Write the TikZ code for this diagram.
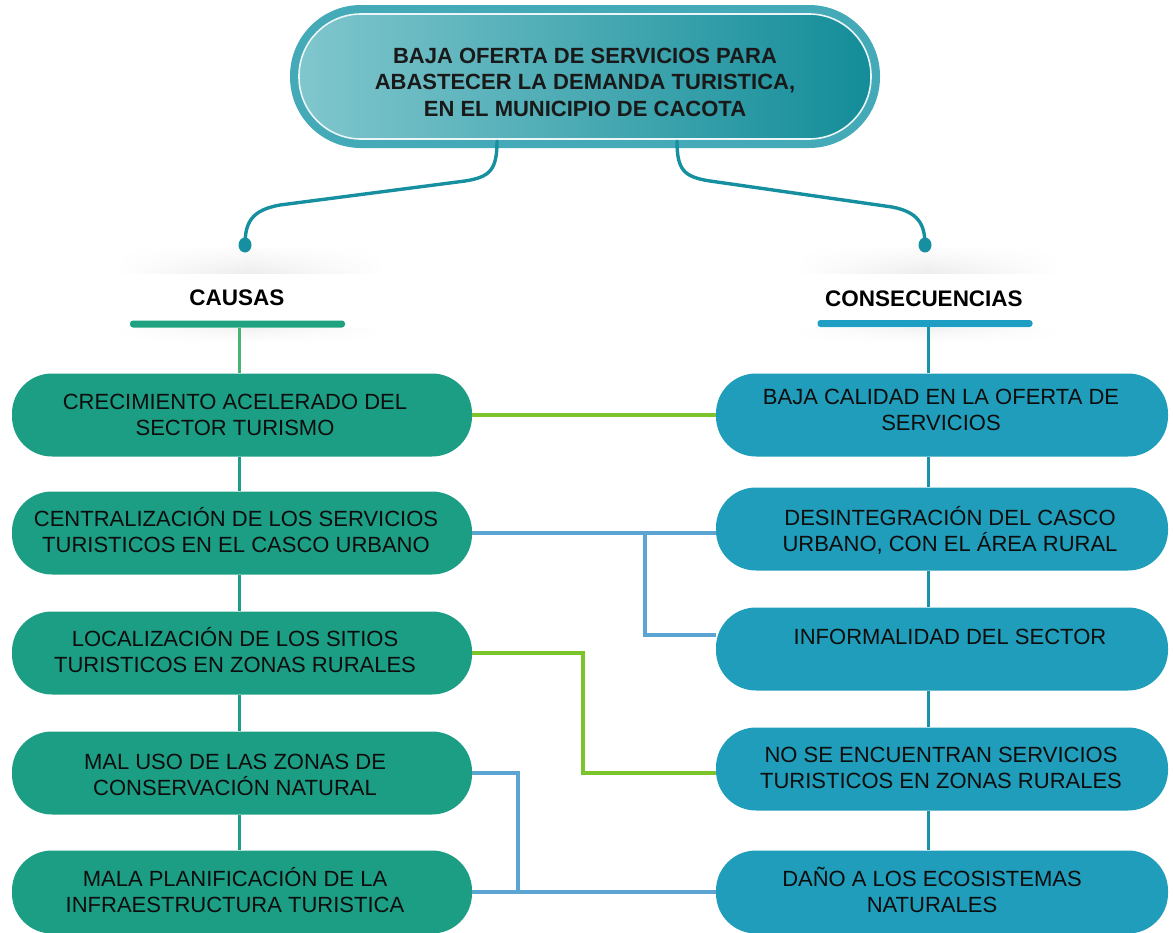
\documentclass[tikz,border=0pt]{standalone}
\usepackage{fontspec}
\setmainfont{Liberation Sans}
\usetikzlibrary{fadings,shapes.geometric}
\definecolor{cgreen}{HTML}{1C9E84}
\definecolor{cblue}{HTML}{1F9DBB}
\definecolor{tealdk}{HTML}{1690A0}
\definecolor{ring}{HTML}{45AAB7}
\definecolor{tlight}{HTML}{80C6CD}
\definecolor{tdark}{HTML}{138D99}
\definecolor{lime}{HTML}{7CC42B}
\definecolor{lblue}{HTML}{5CA4D2}
\definecolor{vgreen}{HTML}{1E9E86}
\definecolor{vgreentop}{HTML}{45B474}
\definecolor{vblue}{HTML}{1A92A5}
\definecolor{barg}{HTML}{1FA27F}
\definecolor{barb}{HTML}{1E9EC3}
\tikzfading[name=hfade, left color=transparent!100, right color=transparent!100, middle color=transparent!0]
\begin{document}
\begin{tikzpicture}[x=1pt,y=-1pt,
  txt/.style={font=\fontsize{22pt}{26pt}\selectfont, align=center, inner sep=0pt, text=black!95},
  ttl/.style={font=\bfseries\fontsize{22pt}{26.5pt}\selectfont, align=center, inner sep=0pt, text=black!90},
  hdr/.style={font=\bfseries\fontsize{22.5pt}{26pt}\selectfont, inner sep=0pt, text=black},
  lbox/.style={fill=cgreen, rounded corners=40pt, minimum width=460pt, minimum height=83pt, inner sep=0pt},
  rbox/.style={fill=cblue, rounded corners=40pt, minimum width=452pt, minimum height=83pt, inner sep=0pt},
  bar/.style={rounded corners=3pt, minimum width=215pt, minimum height=7pt, inner sep=0pt},
  tline/.style={draw=tealdk, line width=3.4pt, line cap=round},
  gline/.style={draw=lime, line width=3.2pt},
  bline/.style={draw=lblue, line width=3.2pt},
  lvert/.style={draw=vgreen, line width=3pt},
  rvert/.style={draw=vblue, line width=3pt},
  dotst/.style={ellipse, fill=tealdk, inner sep=0pt, minimum width=13pt, minimum height=15pt}
]
\useasboundingbox (0,0) rectangle (1173,932);

% header shadows
\shade[top color=white, bottom color=gray!14, path fading=hfade] (115,245) rectangle (385,273);
\shade[top color=gray!10, bottom color=white, path fading=hfade] (115,328) rectangle (385,342);
\shade[top color=white, bottom color=gray!14, path fading=hfade] (795,245) rectangle (1060,273);
\shade[top color=gray!10, bottom color=white, path fading=hfade] (795,328) rectangle (1060,342);

% title
\node[minimum width=590pt, minimum height=143pt, rounded corners=71pt, fill=ring, inner sep=0pt] (title) at (585,76.5) {};
\shadedraw[left color=tlight, right color=tdark, draw=white!85!tlight, line width=1.6pt, rounded corners=62pt] (299,14) rectangle (871,139);
\node[ttl] (ttext) at (585,82) {BAJA OFERTA DE SERVICIOS PARA\\ABASTECER LA DEMANDA TURISTICA,\\EN EL MUNICIPIO DE CACOTA};

% dots
\node[dotst] (dl) at (245,245) {};
\node[dotst] (dr) at (925,245) {};

% title connectors
\draw[tline] ([xshift=-88pt,yshift=7pt]title.south) .. controls (497,170) and (490,177) .. (465,181)
  -- (280,205) .. controls (252,210) and (245,222) .. (dl.center);
\draw[tline] ([xshift=92pt,yshift=7pt]title.south) .. controls (677,170) and (684,177) .. (710,181)
  -- (892,207) .. controls (918,212) and (925,224) .. (dr.center);

% headers
\node[hdr] (hc) at (237,298) {CAUSAS};
\node[hdr] (hq) at (924,299) {CONSECUENCIAS};
\node[bar, fill=barg] (bl) at (237.5,324) {};
\node[bar, fill=barb] (br) at (925,323.5) {};

% left boxes
\node[lbox] (l1) at (242,415) {};
\node[lbox] (l2) at (242,533) {};
\node[lbox] (l3) at (242,653) {};
\node[lbox] (l4) at (242,773) {};
\node[lbox] (l5) at (242,892) {};
% right boxes
\node[rbox] (r1) at (942,415) {};
\node[rbox] (r2) at (942,529) {};
\node[rbox] (r3) at (942,649) {};
\node[rbox] (r4) at (942,769) {};
\node[rbox] (r5) at (942,892) {};

% vertical connectors
\draw[draw=vgreentop, line width=3pt] ([xshift=-3pt]l1.north |- bl.south) -- ([xshift=-3pt]l1.north);
\draw[lvert] ([xshift=-3pt]l1.south) -- ([xshift=-3pt]l2.north);
\draw[lvert] ([xshift=-3pt]l2.south) -- ([xshift=-3pt]l3.north);
\draw[lvert] ([xshift=-3pt]l3.south) -- ([xshift=-3pt]l4.north);
\draw[lvert] ([xshift=-3pt]l4.south) -- ([xshift=-3pt]l5.north);
\draw[rvert] ([xshift=-14pt]r1.north |- br.south) -- ([xshift=-14pt]r1.north);
\draw[rvert] ([xshift=-14pt]r1.south) -- ([xshift=-14pt]r2.north);
\draw[rvert] ([xshift=-14pt]r2.south) -- ([xshift=-14pt]r3.north);
\draw[rvert] ([xshift=-14pt]r3.south) -- ([xshift=-14pt]r4.north);
\draw[rvert] ([xshift=-14pt]r4.south) -- ([xshift=-14pt]r5.north);

% cross connectors
\coordinate (j1) at (645,533);
\coordinate (j2) at (583,773);
\coordinate (j3) at (518,773);
\draw[gline] (l1.east) -- (r1.west);
\draw[bline] (l2.east) -- (l2.east -| r2.west);
\draw[bline] (j1) -- (645,635) -- (r3.west |- 0,635);
\draw[gline] (l3.east) -| (j2) -- (j2 -| r4.west);
\draw[bline] (l4.east) -| (j3) |- (l5.east);
\draw[bline] (l5.east) -- (r5.west);

% texts left
\node[txt] (t1) at (235,415) {CRECIMIENTO ACELERADO DEL\\SECTOR TURISMO};
\node[txt] (t2) at (236,530) {CENTRALIZACIÓN DE LOS SERVICIOS\\TURISTICOS EN EL CASCO URBANO};
\node[txt] (t3) at (235,650) {LOCALIZACIÓN DE LOS SITIOS\\TURISTICOS EN ZONAS RURALES};
\node[txt] (t4) at (235,775) {MAL USO DE LAS ZONAS DE\\CONSERVACIÓN NATURAL};
\node[txt] (t5) at (235,890) {MALA PLANIFICACIÓN DE LA\\INFRAESTRUCTURA TURISTICA};
% texts right
\node[txt] (u1) at (941,410) {BAJA CALIDAD EN LA OFERTA DE\\SERVICIOS};
\node[txt] (u2) at (950,530) {DESINTEGRACIÓN DEL CASCO\\URBANO, CON EL ÁREA RURAL};
\node[txt] (u3) at (950,637) {INFORMALIDAD DEL SECTOR};
\node[txt] (u4) at (941,768) {NO SE ENCUENTRAN SERVICIOS\\TURISTICOS EN ZONAS RURALES};
\node[txt] (u5) at (932,890) {DAÑO A LOS ECOSISTEMAS\\NATURALES};
\end{tikzpicture}
\end{document}
